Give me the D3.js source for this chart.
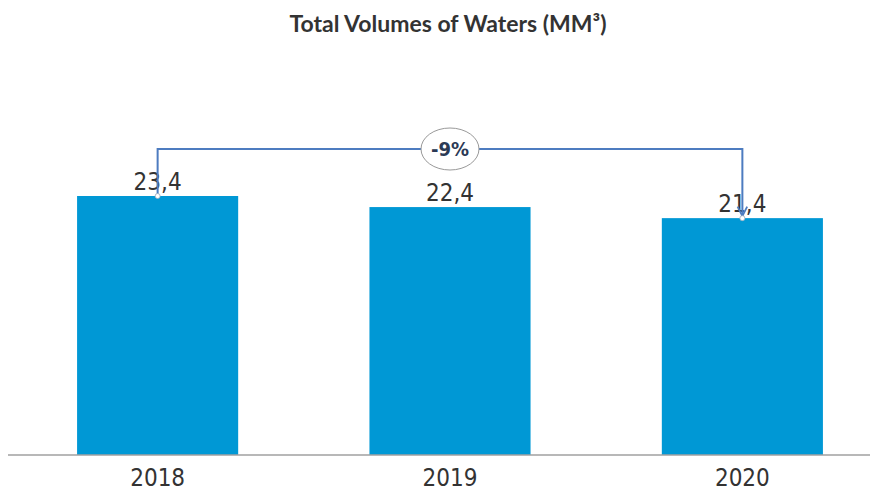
<!DOCTYPE html>
<html><head><meta charset="utf-8">
<script src="https://cdn.jsdelivr.net/npm/d3@7"></script>
<style>body{margin:0;background:#fff}</style>
</head><body>
<svg id="c" width="877" height="494"></svg>
<script>
const years = ["2018", "2019", "2020"];
const volumes = [23.4, 22.4, 21.4];
const labels = ["23,4", "22,4", "21,4"];
const changeLabel = "-9%";
const title = "Total Volumes of Waters (MM³)";

const svg = d3.select("#c");
const baseY = 455;
const narrow = "'DejaVu Sans', sans-serif";

const x = d3.scaleBand().domain(years).range([11, 889]).paddingInner(0.449).paddingOuter(0.226);
const y = d3.scaleLinear().domain([0, 23.4]).range([baseY, 196]);

svg.append("text").attr("x", 448).attr("y", 32).attr("text-anchor", "middle")
  .attr("font-family", "Lato, 'Open Sans', sans-serif").attr("font-weight", "bold")
  .attr("font-size", 23).attr("fill", "#333").text(title);

svg.selectAll("rect.bar").data(volumes).join("rect").attr("class", "bar")
  .attr("x", (d, i) => x(years[i])).attr("width", x.bandwidth())
  .attr("y", d => y(d)).attr("height", d => baseY - y(d)).attr("fill", "#0098d5");

// axis
const axis = svg.append("g").attr("transform", `translate(0,${baseY})`)
  .call(d3.axisBottom(x).tickSize(0).tickPadding(0));
axis.select(".domain").remove();
axis.append("line").attr("x1", 8).attr("x2", 870).attr("stroke", "#a0a0a0").attr("stroke-width", 1.5);
axis.selectAll(".tick text").attr("font-family", narrow).style("font-stretch", "condensed")
  .attr("font-size", 24).attr("fill", "#333").attr("y", 31).attr("dy", null);

// value labels
svg.selectAll("text.val").data(volumes).join("text").attr("class", "val")
  .attr("x", (d, i) => x(years[i]) + x.bandwidth() / 2).attr("y", d => y(d) - 6)
  .attr("text-anchor", "middle")
  .attr("font-family", narrow).style("font-stretch", "condensed")
  .attr("font-size", 24).attr("fill", "#333").text((d, i) => labels[i]);

// bracket
const bY = 149;
const x0 = x(years[0]) + x.bandwidth() / 2, x2 = x(years[2]) + x.bandwidth() / 2;
const defs = svg.append("defs");
defs.append("marker").attr("id", "ar").attr("viewBox", "0 0 10 10").attr("refX", 9).attr("refY", 5)
  .attr("markerWidth", 6).attr("markerHeight", 6).attr("orient", "auto")
  .append("path").attr("d", "M1,1 L9,5 L1,9").attr("fill", "none").attr("stroke", "#4d7cc0").attr("stroke-width", 1.5);
svg.append("path").attr("d", `M${x0},${y(volumes[0]) - 2} L${x0},${bY} L${x2},${bY} L${x2},${y(volumes[2]) - 2}`)
  .attr("fill", "none").attr("stroke", "#4d7cc0").attr("stroke-width", 2).attr("marker-end", "url(#ar)");
svg.append("circle").attr("cx", x0).attr("cy", y(volumes[0])).attr("r", 2.5).attr("fill", "#fff").attr("stroke", "#9ab").attr("stroke-width", 0.8);
svg.append("circle").attr("cx", x2).attr("cy", y(volumes[2])).attr("r", 2.5).attr("fill", "#fff").attr("stroke", "#9ab").attr("stroke-width", 0.8);

const mx = (x0 + x2) / 2;
svg.append("ellipse").attr("cx", mx).attr("cy", bY).attr("rx", 29).attr("ry", 21)
  .attr("fill", "#fff").attr("stroke", "#999").attr("stroke-width", 1);
svg.append("text").attr("x", mx).attr("y", bY).attr("dy", "0.35em").attr("text-anchor", "middle")
  .attr("font-family", narrow).style("font-stretch", "condensed").attr("font-weight", "bold")
  .attr("font-size", 20).attr("fill", "#2b3a55").text(changeLabel);
</script>
</body></html>
